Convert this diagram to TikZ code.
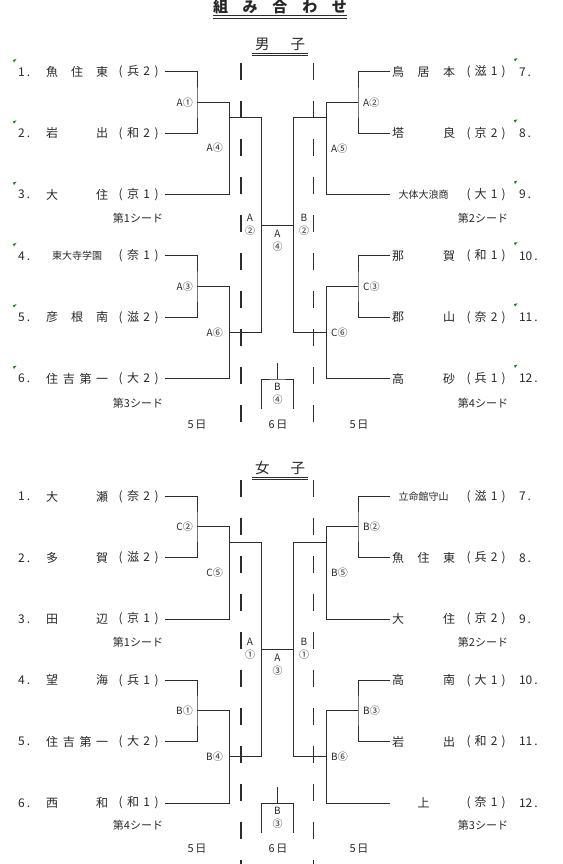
\documentclass[tikz,border=0pt]{standalone}
\usepackage{fontspec}
\usepackage{tikz}
\usetikzlibrary{positioning}
\newfontfamily\jpfont{Noto Sans CJK JP}
\definecolor{strich}{RGB}{45,45,45}
\definecolor{schrift}{RGB}{40,40,40}
\definecolor{markgruen}{RGB}{20,130,20}
\newcommand{\namegr}{\fontsize{12}{13}\selectfont}
\newcommand{\klein}{\fontsize{10}{11}\selectfont}

\begin{document}
\begin{tikzpicture}[x=1pt, y=-1pt, font=\jpfont\namegr, text=schrift,
    nr/.style={inner sep=0pt, anchor=west},
    team/.style={inner sep=0pt, anchor=west},
    verein/.style={inner sep=0pt},
    runde/.style={inner sep=0pt, font=\jpfont\fontsize{10}{11}\selectfont},
    mitte/.style={inner sep=0pt, align=center, font=\jpfont\fontsize{10}{12.5}\selectfont},
    seed/.style={inner sep=0pt, font=\jpfont\fontsize{11}{12}\selectfont},
    tag/.style={inner sep=0pt, font=\jpfont\fontsize{11}{12}\selectfont},
    kopf/.style={inner sep=0pt, font=\jpfont\fontsize{14.5}{15}\selectfont},
    zweig/.style={draw=strich, line width=1pt},
    trenn/.style={draw=strich, line width=1.4pt, dash pattern=on 17pt off 21pt}]
  \useasboundingbox (0,0) rectangle (562,864);
  % Ueberschriften
  \node[inner sep=0pt, font=\jpfont\bfseries\fontsize{15}{16}\selectfont] (titel) at (280,7)
    {\makebox[134pt][s]{組\hfill み\hfill 合\hfill わ\hfill せ}};
  \draw[zweig, line width=1.3pt] (213,15.5) -- (347,15.5);
  \draw[zweig, line width=0.5pt] (213,17.8) -- (347,17.8);
  \node[kopf] (kopfm) at (280,44.5) {\makebox[50pt][s]{男\hfill 子}};
  \node[kopf] (kopfw) at (280,468.5) {\makebox[50pt][s]{女\hfill 子}};
  \foreach \kp in {kopfm,kopfw} {
    \draw[zweig] ([xshift=-3pt,yshift=-2pt]\kp.south west) -- ([xshift=3pt,yshift=-2pt]\kp.south east);
    \draw[zweig, line width=0.5pt] ([xshift=-3pt,yshift=-4pt]\kp.south west) -- ([xshift=3pt,yshift=-4pt]\kp.south east);
  }
  % Jungen links
  \foreach \i/\nm/\pr/\pz in {1/{魚\hfill 住\hfill 東}/兵/2, 2/{岩\hfill 出}/和/2, 3/{大\hfill 住}/京/1,
      4/{\hfil\klein 東大寺学園\hfil}/奈/1, 5/{彦\hfill 根\hfill 南}/滋/2, 6/{住\hfill 吉\hfill 第\hfill 一}/大/2} {
    \pgfmathsetmacro\yy{72+61.3*(\i-1)}
    \node[nr] (m\i z) at (18,\yy) {\i\,.};
    \node[team] (m\i n) at (46,\yy) {\makebox[62pt][s]{\nm}};
    \node[verein, right=10pt of m\i n] (m\i p) {\makebox[40pt][s]{(\hfill\pr\hfill\pz\hfill)}};
    \fill[markgruen] (13,\yy-12) -- ++(3.5,-1) -- ++(-2.5,3.5) -- cycle;
  }
  % Jungen rechts
  \foreach \i/\nm/\pr/\pz in {7/{鳥\hfill 居\hfill 本}/滋/1, 8/{塔\hfill 良}/京/2, 9/{\hfil\klein 大体大浪商\hfil}/大/1,
      10/{那\hfill 賀}/和/1, 11/{郡\hfill 山}/奈/2, 12/{高\hfill 砂}/兵/1} {
    \pgfmathsetmacro\yy{72+61.3*(\i-7)}
    \node[team] (m\i n) at (392,\yy) {\makebox[63pt][s]{\nm}};
    \node[verein, right=11pt of m\i n] (m\i p) {\makebox[39pt][s]{(\hfill\pr\hfill\pz\hfill)}};
    \node[nr, right=13pt of m\i p] (m\i z) {\i\,.};
    \fill[markgruen] (514,\yy-13) -- ++(3.5,-1) -- ++(-2.5,3.5) -- cycle;
  }
  % Maedchen links
  \foreach \i/\nm/\pr/\pz in {1/{大\hfill 瀬}/奈/2, 2/{多\hfill 賀}/滋/2, 3/{田\hfill 辺}/京/1,
      4/{望\hfill 海}/兵/1, 5/{住\hfill 吉\hfill 第\hfill 一}/大/2, 6/{西\hfill 和}/和/1} {
    \pgfmathsetmacro\yy{496.5+61.3*(\i-1)}
    \node[nr] (w\i z) at (18,\yy) {\i\,.};
    \node[team] (w\i n) at (46,\yy) {\makebox[62pt][s]{\nm}};
    \node[verein, right=10pt of w\i n] (w\i p) {\makebox[40pt][s]{(\hfill\pr\hfill\pz\hfill)}};
  }
  % Maedchen rechts
  \foreach \i/\nm/\pr/\pz in {7/{\hfil\klein 立命館守山\hfil}/滋/1, 8/{魚\hfill 住\hfill 東}/兵/2, 9/{大\hfill 住}/京/2,
      10/{高\hfill 南}/大/1, 11/{岩\hfill 出}/和/2, 12/{\hfil 上\hfil}/奈/1} {
    \pgfmathsetmacro\yy{496.5+61.3*(\i-7)}
    \node[team] (w\i n) at (392,\yy) {\makebox[63pt][s]{\nm}};
    \node[verein, right=11pt of w\i n] (w\i p) {\makebox[39pt][s]{(\hfill\pr\hfill\pz\hfill)}};
    \node[nr, right=13pt of w\i p] (w\i z) {\i\,.};
  }
  % Turnierbaum
  \foreach \s/\oy/\von/\bis in {m/0/63/425, w/424/480/864} {
    \draw[trenn] (241,\von) -- (241,\bis);
    \draw[trenn] (313.5,\von) -- (313.5,\bis);
    \coordinate (\s j1) at (197,\oy+102.7);
    \coordinate (\s j2) at (197,\oy+286.6);
    \coordinate (\s j3) at (229,\oy+118);
    \coordinate (\s j4) at (229,\oy+332.5);
    \coordinate (\s j5) at (358,\oy+102.7);
    \coordinate (\s j6) at (358,\oy+286.6);
    \coordinate (\s j7) at (326,\oy+118);
    \coordinate (\s j8) at (326,\oy+332.5);
    \coordinate (\s jc) at (261,\oy+225);
    \coordinate (\s jd) at (293.5,\oy+225);
    \coordinate (\s tb) at (277.5,\oy+379);
    \coordinate (\s tl) at (261,\oy+409);
    \coordinate (\s tr) at (293.5,\oy+409);
    % links
    \draw[zweig] ([xshift=6pt]\s1p.east) -| (\s j1) |- ([xshift=6pt]\s2p.east);
    \draw[zweig] (\s j1) -| (\s j3 |- \s3p.east) -- ([xshift=6pt]\s3p.east);
    \draw[zweig] ([xshift=6pt]\s4p.east) -| (\s j2) |- ([xshift=6pt]\s5p.east);
    \draw[zweig] (\s j2) -| (\s j4 |- \s6p.east) -- ([xshift=6pt]\s6p.east);
    \draw[zweig] (\s j3) -| (\s jc |- \s j4) -- (\s j4);
    % rechts
    \draw[zweig] ([xshift=-2pt]\s7n.west) -| (\s j5) |- ([xshift=-2pt]\s8n.west);
    \draw[zweig] (\s j5) -| (\s j7 |- \s9n.west) -- ([xshift=-2pt]\s9n.west);
    \draw[zweig] ([xshift=-2pt]\s10n.west) -| (\s j6) |- ([xshift=-2pt]\s11n.west);
    \draw[zweig] (\s j6) -| (\s j8 |- \s12n.west) -- ([xshift=-2pt]\s12n.west);
    \draw[zweig] (\s j7) -| (\s jd |- \s j8) -- (\s j8);
    % Finale und Platz 3
    \draw[zweig] (\s jc) -- (\s jd);
    \draw[zweig] (\s tb) -- ++(0,-16);
    \draw[zweig] (\s tl) |- (\s tb) -| (\s tr);
    % Tage
    \node[tag] (\s t1) at (197,\oy+425) {5\,日};
    \node[tag] (\s t2) at (278,\oy+425) {6\,日};
    \node[tag] (\s t3) at (359,\oy+425) {5\,日};
  }
  % Spielnummern
  \foreach \x/\y/\a/\t [count=\c] in {193/102.7/east/A①, 223/148/east/A④, 193/286.6/east/A③, 223/332.5/east/A⑥,
      363/102.7/west/A②, 331/149/west/A⑤, 363/286.6/west/C③, 331/332.5/west/C⑥,
      193/526.7/east/C②, 223/573/east/C⑤, 193/710.6/east/B①, 223/756.5/east/B④,
      363/526.7/west/B②, 331/573/west/B⑤, 363/710.6/west/B③, 331/756.5/west/B⑥}
    \node[runde, anchor=\a] (sp\c) at (\x,\y) {\t};
  \foreach \x/\y/\t [count=\c] in {250/225/{A\\②}, 304/225/{B\\②}, 277.5/241/{A\\④}, 277.5/394/{B\\④},
      250/649/{A\\①}, 304/649/{B\\①}, 277.5/665/{A\\③}, 277.5/818/{B\\③}}
    \node[mitte] (mi\c) at (\x,\y) {\t};
  % Setzungen
  \foreach \x/\y/\t [count=\c] in {138/218/第1シード, 138/403/第3シード, 483/218/第2シード, 483/403/第4シード,
      138/642/第1シード, 138/825/第4シード, 483/642/第2シード, 483/825/第3シード}
    \node[seed] (se\c) at (\x,\y) {\t};
\end{tikzpicture}
\end{document}
